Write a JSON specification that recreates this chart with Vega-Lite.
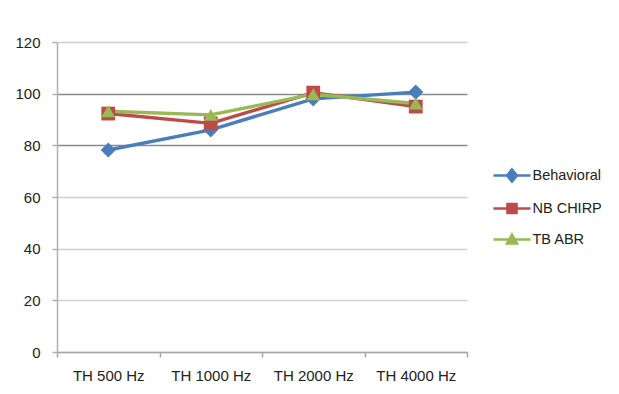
{
  "$schema": "https://vega.github.io/schema/vega-lite/v6.json",
  "width": 410,
  "height": 310,
  "autosize": "none",
  "padding": {"left": 57, "top": 42, "right": 152, "bottom": 42},
  "background": "white",
  "config": {
    "view": {"stroke": null},
    "font": "Liberation Sans"
  },
  "data": {
    "values": [
      {"freq": "TH 500 Hz", "series": "Behavioral", "value": 78.2},
      {"freq": "TH 1000 Hz", "series": "Behavioral", "value": 86},
      {"freq": "TH 2000 Hz", "series": "Behavioral", "value": 98},
      {"freq": "TH 4000 Hz", "series": "Behavioral", "value": 100.6},
      {"freq": "TH 500 Hz", "series": "NB CHIRP", "value": 92.3},
      {"freq": "TH 1000 Hz", "series": "NB CHIRP", "value": 88.5},
      {"freq": "TH 2000 Hz", "series": "NB CHIRP", "value": 100.4},
      {"freq": "TH 4000 Hz", "series": "NB CHIRP", "value": 95},
      {"freq": "TH 500 Hz", "series": "TB ABR", "value": 93.2},
      {"freq": "TH 1000 Hz", "series": "TB ABR", "value": 91.8},
      {"freq": "TH 2000 Hz", "series": "TB ABR", "value": 99.8},
      {"freq": "TH 4000 Hz", "series": "TB ABR", "value": 96.2}
    ]
  },
  "encoding": {
    "x": {
      "field": "freq",
      "type": "nominal",
      "sort": ["TH 500 Hz", "TH 1000 Hz", "TH 2000 Hz", "TH 4000 Hz"],
      "scale": {"type": "band", "paddingInner": 0, "paddingOuter": 0},
      "bandPosition": 0.5,
      "axis": {
        "title": null,
        "labelAngle": 0,
        "labelFontSize": 15,
        "labelColor": "#222222",
        "labelPadding": 11,
        "tickBand": "extent",
        "tickSize": 5,
        "tickColor": "#a6a6a6",
        "tickWidth": 1.5,
        "domainColor": "#a6a6a6",
        "domainWidth": 1.5,
        "grid": false
      }
    },
    "y": {
      "field": "value",
      "type": "quantitative",
      "scale": {"domain": [0, 120], "nice": false},
      "axis": {
        "title": null,
        "values": [0, 20, 40, 60, 80, 100, 120],
        "labelFontSize": 15,
        "labelColor": "#222222",
        "labelPadding": 12,
        "tickSize": 5,
        "tickColor": "#b0b0b0",
        "tickWidth": 1.5,
        "domainColor": "#b0b0b0",
        "domainWidth": 1.5,
        "grid": true,
        "gridColor": {"condition": {"test": "datum.value == 80 || datum.value == 100", "value": "#8c8c8c"}, "value": "#cfcfcf"},
        "gridWidth": 1.3
      }
    },
    "color": {
      "field": "series",
      "type": "nominal",
      "scale": {"domain": ["Behavioral", "NB CHIRP", "TB ABR"], "range": ["#4A7EBB", "#BE4B48", "#98B954"]},
      "legend": {
        "title": null,
        "orient": "none",
        "legendX": 443.5,
        "legendY": 122,
        "padding": 0,
        "symbolSize": 400,
        "symbolStrokeWidth": 2.5,
        "labelFontSize": 14.5,
        "labelColor": "#222222",
        "labelOffset": 9,
        "rowPadding": 10,
        "encode": {
          "symbols": {
            "update": {
              "shape": {"signal": "datum.value === 'Behavioral' ? 'M-1.85,0L1.85,0M0,-0.6L0.5,0L0,0.6L-0.5,0Z' : datum.value === 'NB CHIRP' ? 'M-1.85,0L1.85,0M-0.45,-0.45L0.45,-0.45L0.45,0.45L-0.45,0.45Z' : 'M-1.85,0L1.85,0M0,-0.5L0.5,0.4L-0.5,0.4Z'"},
              "fill": {"signal": "scale('color', datum.value)"},
              "stroke": {"signal": "scale('color', datum.value)"},
              "opacity": {"value": 1}
            }
          }
        }
      }
    }
  },
  "layer": [
    {
      "mark": {"type": "line", "strokeWidth": 3.4}
    },
    {
      "transform": [{"filter": "datum.series === 'Behavioral'"}],
      "mark": {"type": "point", "filled": true, "opacity": 1, "shape": "diamond", "size": 230}
    },
    {
      "transform": [{"filter": "datum.series === 'NB CHIRP'"}],
      "mark": {"type": "point", "filled": true, "opacity": 1, "shape": "square", "size": 190}
    },
    {
      "transform": [{"filter": "datum.series === 'TB ABR'"}],
      "mark": {"type": "point", "filled": true, "opacity": 1, "shape": "triangle-up", "size": 190}
    }
  ]
}
